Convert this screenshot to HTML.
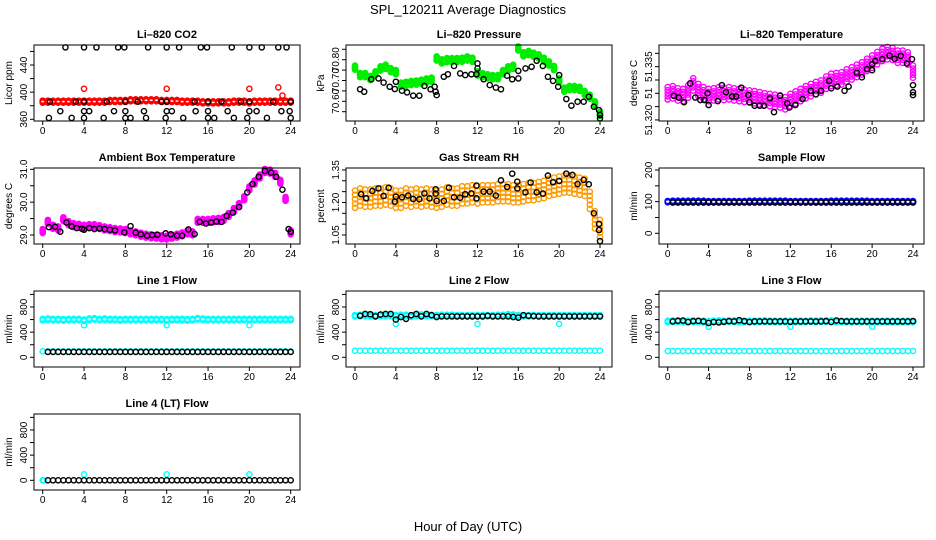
<!DOCTYPE html>
<html><head><meta charset="utf-8"><style>
html,body{margin:0;padding:0;background:#fff;}
svg{display:block;font-family:"Liberation Sans",Arial,sans-serif;}
</style></head><body>
<svg id="chart" width="936" height="540" viewBox="0 0 936 540" xmlns="http://www.w3.org/2000/svg">
<rect x="0" y="0" width="936" height="540" fill="#fff"/>
<text x="468" y="14" text-anchor="middle" font-size="13">SPL_120211  Average Diagnostics</text>
<text x="468" y="531" text-anchor="middle" font-size="13">Hour of Day (UTC)</text>
</svg>
<script>
const HOURS=[0,0.5,1,1.5,2,2.5,3,3.5,4,4.5,5,5.5,6,6.5,7,7.5,8,8.5,9,9.5,10,10.5,11,11.5,12,12.5,13,13.5,14,14.5,15,15.5,16,16.5,17,17.5,18,18.5,19,19.5,20,20.5,21,21.5,22,22.5,23,23.5,24];
const HOURS_B=[0.5,1,1.5,2,2.5,3,3.5,4,4.5,5,5.5,6,6.5,7,7.5,8,8.5,9,9.5,10,10.5,11,11.5,12,12.5,13,13.5,14,14.5,15,15.5,16,16.5,17,17.5,18,18.5,19,19.5,20,20.5,21,21.5,22,22.5,23,23.5,24];
const X_TICKS=[0,4,8,12,16,20,24];

// CO2
const co2Red=[386,386,386,386,386,386,386,386,386,386,386,386,386,387,387,387,387,388,388,388,388,388,388,387,387,387,387,386,386,386,386,385,385,385,385,385,385,386,386,386,385,386,386,386,386,386,386,386,386];
const co2RedOutX=[4,12,20,22.8,23.2];
const co2RedOutY=[405,405,405,407,395];
const co2BlackX=[2.2,4,5.2,7.3,7.9,10.2,12,13.2,15.3,15.9,18.3,20,21.2,22.8,23.6,0.7,3.2,4,6.2,8,9.2,11.5,12,14.7,16,17.3,19.2,20,22.3,24,1.7,4,4.5,6.9,8,9.8,12,12.5,14.8,16,17.9,20,20.7,23.1,23.9,0.6,2.8,4,5.9,8,8.5,10,11.9,13.6,16,16.6,18.5,19.8,21.7,24];
const co2BlackY=[466,466,466,466,466,466,466,466,466,466,466,466,466,466,466,386,386,386,386,386,386,386,386,386,386,386,386,386,386,386,372,372,372,372,372,372,372,372,372,372,372,372,372,372,372,362,362,362,362,362,362,362,362,362,362,362,362,362,362,362];

// Pressure
const presGreen=[70.762,70.726,70.726,70.712,70.734,70.758,70.766,70.750,70.740,70.680,70.684,70.688,70.690,70.694,70.700,70.704,70.806,70.792,70.798,70.798,70.798,70.800,70.806,70.800,70.734,70.726,70.720,70.716,70.716,70.740,70.758,70.766,70.854,70.826,70.832,70.824,70.816,70.800,70.782,70.760,70.700,70.656,70.664,70.664,70.660,70.640,70.622,70.590,70.540];
const presBlackX=[0.5,0.9,1.6,2.3,2.8,3.4,3.9,4,4.6,5.1,5.7,6.3,6.8,7.4,7.8,7.9,8,8.7,9.1,9.7,10.3,10.8,11.4,11.9,12,12,12.6,13.2,13.8,14.3,14.9,15.4,16,16,16.7,17.3,17.8,18.4,18.9,19.4,19.9,20,20.7,21.2,21.8,22.4,22.9,23.4,23.9,24,24];
const presBlackY=[70.658,70.646,70.706,70.710,70.690,70.670,70.659,70.694,70.651,70.643,70.627,70.627,70.674,70.658,70.670,70.646,70.630,70.718,70.730,70.770,70.734,70.726,70.730,70.730,70.782,70.758,70.706,70.678,70.666,70.658,70.723,70.706,70.710,70.746,70.758,70.766,70.795,70.770,70.718,70.698,70.670,70.726,70.611,70.579,70.598,70.598,70.622,70.574,70.558,70.534,70.518];

// Li-820 temperature
const tempMag=[51.3275,51.3278,51.3272,51.3270,51.3280,51.3300,51.3284,51.3275,51.3270,51.3272,51.3275,51.3273,51.3275,51.3272,51.3270,51.3268,51.3266,51.3264,51.3261,51.3258,51.3256,51.3254,51.3252,51.3247,51.3256,51.3263,51.3270,51.3278,51.3284,51.3290,51.3294,51.3305,51.3313,51.3315,51.3317,51.3325,51.3331,51.3338,51.3345,51.3355,51.3364,51.3374,51.3383,51.3388,51.3386,51.3378,51.3378,51.3373,51.3336];
const tempBlackX=[0.6,1.1,1.6,2.2,2.7,3.2,3.6,3.9,4,4.9,5.3,5.7,6.3,6.7,7.2,7.9,8,8.5,9,9.4,10,10.4,11,11.7,11.9,12.5,13.2,14,14.5,15,15.8,16,16.6,17.3,17.7,18.5,19,19.5,20,20,20.3,21,21.7,22.2,22.8,23.4,23.9,24,24,24];
const tempBlackY=[51.3268,51.3263,51.3250,51.3303,51.3263,51.3256,51.3256,51.3275,51.3242,51.3253,51.3298,51.3278,51.3266,51.3266,51.3291,51.3270,51.3250,51.3240,51.3240,51.3240,51.3261,51.3222,51.3268,51.3247,51.3235,51.3242,51.3259,51.3282,51.3272,51.3282,51.3310,51.3289,51.3294,51.3282,51.3294,51.3333,51.3320,51.3343,51.3357,51.3340,51.3366,51.3371,51.3381,51.3372,51.3380,51.3359,51.3371,51.3298,51.3278,51.3270];

// Ambient box temperature
const ambMag=[29.12,29.40,29.25,29.20,29.48,29.36,29.30,29.28,29.25,29.27,29.27,29.24,29.20,29.18,29.15,29.14,29.12,29.08,29.05,29.01,28.98,28.96,28.95,28.93,28.92,28.95,28.98,29.02,29.08,29.05,29.43,29.43,29.43,29.45,29.46,29.49,29.61,29.76,29.91,30.12,30.42,30.60,30.78,30.95,30.93,30.83,30.62,30.10,29.08];
const ambBlackX=[0.6,1.2,1.7,2.3,2.8,3.3,3.8,4,4.5,5,5.5,6,6.5,7,7.9,8.5,9,9.5,10.1,10.6,11.1,11.9,12.4,13,13.5,14.1,14.7,15.2,15.8,16.3,16.8,17.3,17.8,18.4,19,19.8,20.3,20.9,21.5,22.1,22.6,23.2,23.8,24];
const ambBlackY=[29.24,29.25,29.10,29.38,29.26,29.21,29.19,29.16,29.21,29.18,29.20,29.18,29.16,29.14,29.08,29.27,29.07,29.02,28.98,29.00,29.01,29.05,29.02,28.98,28.98,29.17,29.03,29.40,29.35,29.38,29.41,29.40,29.58,29.68,29.85,30.30,30.55,30.77,30.95,30.90,30.77,30.38,29.18,29.10];

// Gas stream RH
const rhOrange=[1.215,1.225,1.22,1.22,1.225,1.225,1.23,1.225,1.215,1.215,1.225,1.22,1.225,1.22,1.225,1.22,1.215,1.22,1.23,1.225,1.225,1.235,1.235,1.24,1.235,1.24,1.24,1.24,1.245,1.245,1.245,1.24,1.24,1.245,1.25,1.25,1.255,1.26,1.27,1.275,1.28,1.285,1.285,1.28,1.275,1.27,1.21,1.12,1.08];
const rhBlackX=[0.6,1.1,1.7,2.3,2.8,3.3,3.9,4,4.6,5.2,5.7,6.3,6.8,7.3,7.9,7.9,8,8.7,9.2,9.7,10.3,10.8,11.4,11.9,11.9,12.6,13.2,13.8,14.3,14.9,15.4,15.9,15.9,16.7,17.2,17.8,18.4,18.9,19.4,20,20.7,21.3,21.8,22.4,22.9,23.4,23.9,23.9,24];
const rhBlackY=[1.238,1.219,1.253,1.265,1.23,1.268,1.204,1.227,1.224,1.232,1.216,1.215,1.242,1.219,1.241,1.261,1.207,1.207,1.268,1.224,1.222,1.238,1.242,1.278,1.219,1.25,1.25,1.232,1.302,1.272,1.333,1.296,1.265,1.247,1.292,1.247,1.241,1.324,1.293,1.299,1.333,1.327,1.285,1.304,1.284,1.15,1.101,1.073,1.022];

// Sample flow
const sampleBlue=[100,101,101,101,101,101,101,101,100,100,100,100,100,100,100,100,101,101,101,101,101,101,101,101,100,100,100,100,100,100,100,100,101,101,101,101,101,101,101,101,100,100,100,100,100,100,100,100,100];
const sampleBlack=[97,97,97,97,97,97,97,97,97,97,97,97,97,97,97,97,97,97,97,97,97,97,97,97,97,97,97,97,97,97,97,97,97,97,97,97,97,97,97,97,97,97,97,97,97,97,97,97];

// Line flows
const line1Cyan=[600,605,600,600,595,600,600,600,590,605,610,600,605,600,600,595,600,600,600,600,600,600,600,600,595,600,600,600,595,600,612,605,600,600,600,600,600,600,600,600,600,600,600,600,600,600,600,600,600];
const line1CyanLow=[95,95,95,95,95,95,95,95,95,95,95,95,95,95,95,95,95,95,95,95,95,95,95,95,95,95,95,95,95,95,95,95,95,95,95,95,95,95,95,95,95,95,95,95,95,95,95,95,95];
const line1Black=[85,85,85,85,85,85,85,85,85,85,85,85,85,85,85,85,85,85,85,85,85,85,85,85,85,85,85,85,85,85,85,85,85,85,85,85,85,85,85,85,85,85,85,85,85,85,85,85];
const line2Cyan=[660,665,665,660,660,665,665,665,660,665,665,655,665,670,665,665,660,665,665,665,660,660,660,660,660,660,660,660,665,665,675,670,660,660,660,660,660,660,660,660,660,660,660,660,660,660,660,660,660];
const line2CyanLow=[105,105,105,105,105,105,105,105,105,105,105,105,105,105,105,105,105,105,105,105,105,105,105,105,105,105,105,105,105,105,105,105,105,105,105,105,105,105,105,105,105,105,105,105,105,105,105,105,105];
const line2Black=[660,690,685,650,680,690,690,600,640,610,670,690,650,690,670,640,650,650,650,650,650,650,650,650,650,660,650,650,650,650,640,630,670,660,655,650,650,650,650,650,650,650,650,650,650,650,650,650];
const line3Cyan=[570,575,575,570,570,575,570,570,565,570,575,570,575,575,570,570,570,570,570,575,570,570,570,570,570,570,570,570,575,570,575,575,575,570,570,570,570,570,570,570,570,570,570,570,570,570,570,570,570];
const line3CyanLow=[100,100,100,100,100,100,100,100,100,100,100,100,100,100,100,100,100,100,100,100,100,100,100,100,100,100,100,100,100,100,100,100,100,100,100,100,100,100,100,100,100,100,100,100,100,100,100,100,100];
const line3Black=[570,580,585,560,575,580,570,545,560,555,565,575,570,590,575,560,570,570,570,570,570,570,570,565,570,570,570,570,570,570,575,560,585,575,570,570,570,570,570,570,570,570,570,570,570,570,570,575];
const line4Black=[0,0,0,0,0,0,0,0,0,0,0,0,0,0,0,0,0,0,0,0,0,0,0,0,0,0,0,0,0,0,0,0,0,0,0,0,0,0,0,0,0,0,0,0,0,0,0,0];
const flowOutX=[4,12,20];
const line1OutY=[510,510,510];
const line2OutY=[530,530,530];
const line3OutY=[485,485,485];
const line4OutY=[95,95,95];
const line4CyanStartX=[0,0.1];
const line4CyanStartY=[0,0];

const NS="http://www.w3.org/2000/svg";
const svg=document.getElementById('chart');
const COLS=[{bl:34,br:300,x0:42.7,x24:290.7},{bl:346,br:612,x0:355,x24:600},{bl:659,br:924,x0:667.7,x24:913}];
const ROWS=[{t:45,b:121},{t:168,b:244},{t:291,b:367},{t:414,b:490}];

function el(tag,parent){const e=document.createElementNS(NS,tag);parent.appendChild(e);return e;}

function panel(name,title,col,row,ymin,ymax,yticks,ylabels,ylab){
  const C=COLS[col],R=ROWS[row];
  const g=el('g',svg);
  
  
  const sx=h=>C.x0+(C.x24-C.x0)*h/24;
  const sy=v=>R.b-(v-ymin)/(ymax-ymin)*(R.b-R.t);
  const t=el('text',g);
  t.setAttribute('x',(C.bl+C.br)/2);t.setAttribute('y',R.t-7);t.setAttribute('text-anchor','middle');
  t.setAttribute('font-size','11');t.setAttribute('font-weight','bold');t.textContent=title;
  
  
  const pts=el('g',g);
  
  
  const box=el('rect',g);
  box.setAttribute('x',C.bl);box.setAttribute('y',R.t);box.setAttribute('width',C.br-C.bl);box.setAttribute('height',R.b-R.t);
  box.setAttribute('fill','none');box.setAttribute('stroke','#000');
  
  
  const xa=el('g',g);
  
  
  X_TICKS.forEach(h=>{
    const tk=el('line',xa);
    tk.setAttribute('x1',sx(h));tk.setAttribute('x2',sx(h));tk.setAttribute('y1',R.b);tk.setAttribute('y2',R.b+4);tk.setAttribute('stroke','#000');
    
    
    const lb=el('text',xa);
    lb.setAttribute('x',sx(h));lb.setAttribute('y',R.b+13);lb.setAttribute('text-anchor','middle');lb.setAttribute('font-size','10');lb.textContent=h;
    
    
  });
  const ya=el('g',g);
  
  
  const ax=C.bl;
  yticks.forEach(v=>{
    const tk=el('line',ya);
    tk.setAttribute('x1',ax-4);tk.setAttribute('x2',ax);tk.setAttribute('y1',sy(v));tk.setAttribute('y2',sy(v));tk.setAttribute('stroke','#000');
    
    
  });
  ylabels.forEach(l=>{
    const lb=el('text',ya);
    const yy=sy(l[0]);
    lb.setAttribute('x',ax-7);lb.setAttribute('y',yy);lb.setAttribute('text-anchor','middle');lb.setAttribute('font-size','10');
    lb.setAttribute('transform','rotate(-90 '+(ax-7)+' '+yy+')');lb.textContent=l[1];
    
    
  });
  const yt=el('text',ya);
  const my=(R.t+R.b)/2, mx=C.bl-22;
  yt.setAttribute('x',mx);yt.setAttribute('y',my);yt.setAttribute('text-anchor','middle');yt.setAttribute('font-size','10');
  yt.setAttribute('transform','rotate(-90 '+mx+' '+my+')');yt.textContent=ylab;
  
  
  return {pts,sx,sy};
}

function scatter(P,xs,ys,color,sname,spread){
  const offs=spread?[-0.5,-0.25,0,0.25,0.5]:[0];
  xs.forEach((h,i)=>{
    offs.forEach(o=>{
      const c=el('circle',P.pts);
      c.setAttribute('cx',P.sx(h));c.setAttribute('cy',P.sy(ys[i]+o*(spread||0)));c.setAttribute('r',2.6);
      c.setAttribute('fill','none');c.setAttribute('stroke',color);c.setAttribute('stroke-width','1.4');
      
      
    });
  });
}

let P;
P=panel('co2','Li\u2013820 CO2',0,0,357.5,469.5,[360,380,400,420,440,460],[[360,'360'],[400,'400'],[440,'440']],'Licor ppm');
scatter(P,HOURS,co2Red,'#ff0000','co2-red-point',3);
scatter(P,co2RedOutX,co2RedOutY,'#ff0000','co2-red-outlier');
scatter(P,co2BlackX,co2BlackY,'#000','co2-mean-point');

P=panel('pressure','Li\u2013820 Pressure',1,0,70.5053,70.8707,[70.55,70.60,70.65,70.70,70.75,70.80,70.85],[[70.60,'70.60'],[70.70,'70.70'],[70.80,'70.80']],'kPa');
scatter(P,HOURS,presGreen,'#00ee00','pressure-green-point',0.02);
scatter(P,presBlackX,presBlackY,'#000','pressure-mean-point');

P=panel('li820-temp','Li\u2013820 Temperature',2,0,51.3197,51.3411,[51.3200,51.32375,51.3275,51.33125,51.3350,51.33875],[[51.320,'51.320'],[51.3275,'51'],[51.335,'51.335']],'degrees C');
scatter(P,HOURS,tempMag,'#ff00ff','li820-temp-magenta-point',0.0035);
scatter(P,tempBlackX,tempBlackY,'#000','li820-temp-mean-point');

P=panel('ambient-temp','Ambient Box Temperature',0,1,28.726,31.04,[29.0,29.5,30.0,30.5,31.0],[[29,'29.0'],[30,'30.0'],[31,'31.0']],'degrees C');
scatter(P,HOURS,ambMag,'#ff00ff','ambient-magenta-point',0.12);
scatter(P,ambBlackX,ambBlackY,'#000','ambient-mean-point');

P=panel('rh','Gas Stream RH',1,1,1.0085,1.359,[1.05,1.10,1.15,1.20,1.25,1.30,1.35],[[1.05,'1.05'],[1.20,'1.20'],[1.35,'1.35']],'percent');
scatter(P,HOURS,rhOrange,'#ff9900','rh-orange-point',0.08);
scatter(P,rhBlackX,rhBlackY,'#000','rh-mean-point');

P=panel('sample-flow','Sample Flow',2,1,-33.8,206.3,[0,50,100,150,200],[[0,'0'],[100,'100'],[200,'200']],'ml/min');
scatter(P,HOURS,sampleBlue,'#0000ff','sample-blue-point',4);
scatter(P,HOURS_B,sampleBlack,'#000','sample-mean-point');

const FT=[0,200,400,600,800,1000], FL=[[0,'0'],[400,'400'],[800,'800']];
P=panel('line1','Line 1 Flow',0,2,-154,1054,FT,FL,'ml/min');
scatter(P,HOURS,line1Cyan,'#00ffff','line1-cyan-point',25);
scatter(P,HOURS,line1CyanLow,'#00ffff','line1-cyan-low-point');
scatter(P,flowOutX,line1OutY,'#00ffff','line1-outlier');
scatter(P,HOURS_B,line1Black,'#000','line1-mean-point');

P=panel('line2','Line 2 Flow',1,2,-154,1054,FT,FL,'ml/min');
scatter(P,HOURS,line2Cyan,'#00ffff','line2-cyan-point',25);
scatter(P,HOURS,line2CyanLow,'#00ffff','line2-cyan-low-point');
scatter(P,flowOutX,line2OutY,'#00ffff','line2-outlier');
scatter(P,HOURS_B,line2Black,'#000','line2-mean-point');

P=panel('line3','Line 3 Flow',2,2,-154,1054,FT,FL,'ml/min');
scatter(P,HOURS,line3Cyan,'#00ffff','line3-cyan-point',25);
scatter(P,HOURS,line3CyanLow,'#00ffff','line3-cyan-low-point');
scatter(P,flowOutX,line3OutY,'#00ffff','line3-outlier');
scatter(P,HOURS_B,line3Black,'#000','line3-mean-point');

P=panel('line4','Line 4 (LT) Flow',0,3,-154,1054,FT,FL,'ml/min');
scatter(P,line4CyanStartX,line4CyanStartY,'#00ffff','line4-cyan-point');
scatter(P,flowOutX,line4OutY,'#00ffff','line4-outlier');
scatter(P,HOURS_B,line4Black,'#000','line4-mean-point');
</script>
</body></html>
